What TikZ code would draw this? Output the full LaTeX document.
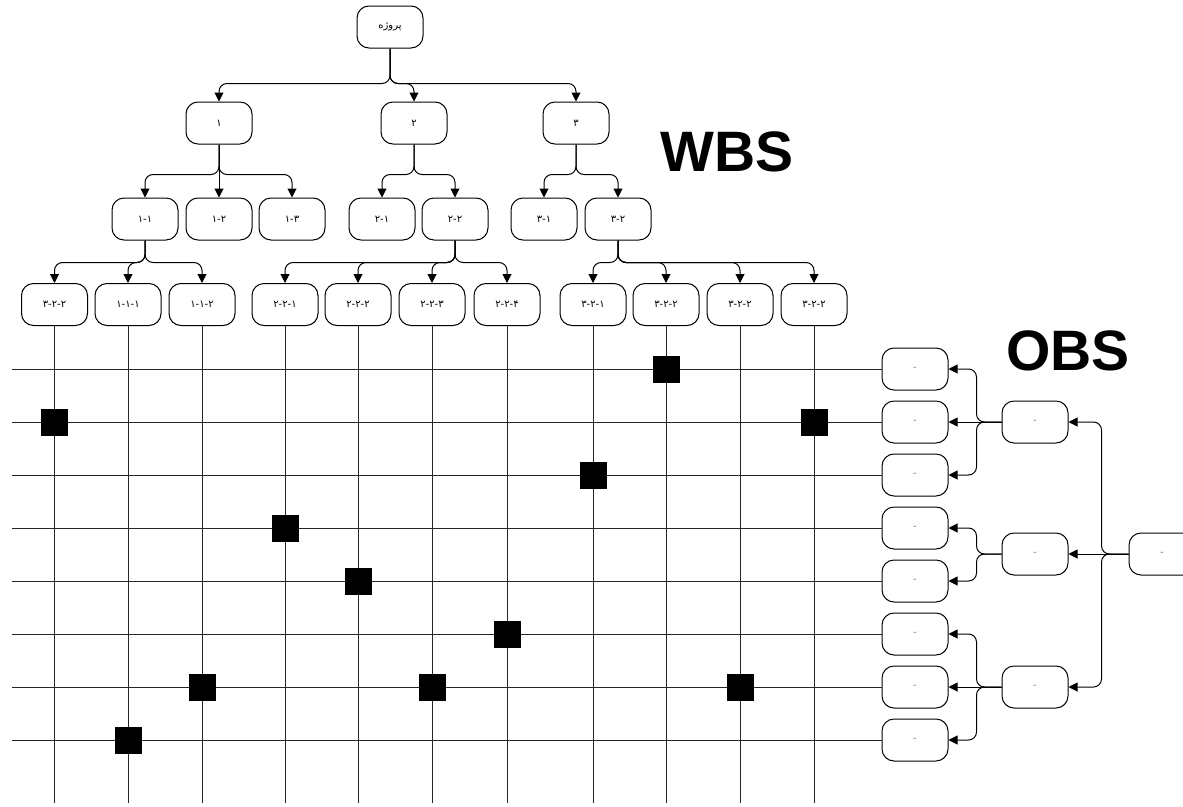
\documentclass[tikz,border=0pt]{standalone}
\usepackage{fontspec}
\usepackage{tikz}
\usetikzlibrary{arrows.meta}
\setmainfont{DejaVu Sans}
\newfontfamily\arabicfont[Script=Arabic]{DejaVu Sans}
\newfontfamily\headfont{Liberation Sans}
\TeXXeTstate=1

\begin{document}
\begin{tikzpicture}[x=1pt, y=-1pt,
  box/.style={draw, line width=1pt, rounded corners=12pt, minimum width=66pt, minimum height=42pt, inner sep=0pt, font=\arabicfont\fontsize{10}{10}\selectfont},
  obsbox/.style={box, text=black!50},
  link/.style={draw, line width=1pt, rounded corners=8pt, -{Triangle[length=9pt,width=9pt]}},
  rule/.style={line width=1pt, black!85},
  hit/.style={fill=black, minimum size=27pt, inner sep=0pt},
  big/.style={font=\headfont\bfseries\fontsize{57}{57}\selectfont}]
\useasboundingbox (0,0) rectangle (1183,806);
\clip (0,0) rectangle (1183,806);

% WBS tree
\node[box] (p) at (390,27) {\beginR پروژه\endR};
\node[box] (a1) at (219,123) {۱};
\node[box] (a2) at (414,123) {۲};
\node[box] (a3) at (576,123) {۳};

\node[box] (b1) at (145,219) {۱-۱};
\node[box] (b2) at (219,219) {۱-۲};
\node[box] (b3) at (292,219) {۱-۳};
\node[box] (b4) at (382,219) {۲-۱};
\node[box] (b5) at (455,219) {۲-۲};
\node[box] (b6) at (544,219) {۳-۱};
\node[box] (b7) at (618,219) {۳-۲};

\node[box] (w1) at (54.5,304.5) {۳-۲-۲};
\node[box] (w2) at (128,304.5) {۱-۱-۱};
\node[box] (w3) at (202,304.5) {۱-۱-۲};
\node[box] (w4) at (285,304.5) {۲-۲-۱};
\node[box] (w5) at (358,304.5) {۲-۲-۲};
\node[box] (w6) at (432,304.5) {۲-۲-۳};
\node[box] (w7) at (507,304.5) {۲-۲-۴};
\node[box] (w8) at (593,304.5) {۳-۲-۱};
\node[box] (w9) at (666,304.5) {۳-۲-۲};
\node[box] (w10) at (740,304.5) {۳-۲-۲};
\node[box] (w11) at (814,304.5) {۳-۲-۲};

\draw[link] (p.south) -- ++(0,35) -| (a1.north);
\draw[link] (p.south) -- ++(0,35) -| (a2.north);
\draw[link] (p.south) -- ++(0,35) -| (a3.north);

\draw[link] (a1.south) -- ++(0,30) -| (b1.north);
\draw[link] (a1.south) -- (b2.north);
\draw[link] (a1.south) -- ++(0,30) -| (b3.north);
\draw[link] (a2.south) -- ++(0,30) -| (b4.north);
\draw[link] (a2.south) -- ++(0,30) -| (b5.north);
\draw[link] (a3.south) -- ++(0,30) -| (b6.north);
\draw[link] (a3.south) -- ++(0,30) -| (b7.north);

\draw[link] (b1.south) -- ++(0,22) -| (w1.north);
\draw[link] (b1.south) -- ++(0,22) -| (w2.north);
\draw[link] (b1.south) -- ++(0,22) -| (w3.north);
\draw[link] (b5.south) -- ++(0,22) -| (w4.north);
\draw[link] (b5.south) -- ++(0,22) -| (w5.north);
\draw[link] (b5.south) -- ++(0,22) -| (w6.north);
\draw[link] (b5.south) -- ++(0,22) -| (w7.north);
\draw[link] (b7.south) -- ++(0,22) -| (w8.north);
\draw[link] (b7.south) -- ++(0,22) -| (w9.north);
\draw[link] (b7.south) -- ++(0,22) -| (w10.north);
\draw[link] (b7.south) -- ++(0,22) -| (w11.north);

% OBS tree
\node[obsbox] (o1) at (915,369) {-};
\node[obsbox] (o2) at (915,422) {-};
\node[obsbox] (o3) at (915,475) {-};
\node[obsbox] (o4) at (915,528) {-};
\node[obsbox] (o5) at (915,581) {-};
\node[obsbox] (o6) at (915,634) {-};
\node[obsbox] (o7) at (915,687) {-};
\node[obsbox] (o8) at (915,740) {-};
\node[obsbox] (m1) at (1035,422) {-};
\node[obsbox] (m2) at (1035,554) {-};
\node[obsbox] (m3) at (1035,687) {-};
\node[obsbox] (r) at (1162,554) {-};

\draw[link] (m1.west) -- ++(-25,0) |- (o1.east);
\draw[link] (m1.west) -- (o2.east);
\draw[link] (m1.west) -- ++(-25,0) |- (o3.east);
\draw[link] (m2.west) -- ++(-25,0) |- (o4.east);
\draw[link] (m2.west) -- ++(-25,0) |- (o5.east);
\draw[link] (m3.west) -- ++(-25,0) |- (o6.east);
\draw[link] (m3.west) -- (o7.east);
\draw[link] (m3.west) -- ++(-25,0) |- (o8.east);
\draw[link] (r.west) -- ++(-27,0) |- (m1.east);
\draw[link] (r.west) -- (m2.east);
\draw[link] (r.west) -- ++(-27,0) |- (m3.east);

% matrix lines
\coordinate (bot) at (0,803);
\coordinate (lft) at (12,0);
\draw[rule] (w1.south) -- (w1.south |- bot);
\draw[rule] (w2.south) -- (w2.south |- bot);
\draw[rule] (w3.south) -- (w3.south |- bot);
\draw[rule] (w4.south) -- (w4.south |- bot);
\draw[rule] (w5.south) -- (w5.south |- bot);
\draw[rule] (w6.south) -- (w6.south |- bot);
\draw[rule] (w7.south) -- (w7.south |- bot);
\draw[rule] (w8.south) -- (w8.south |- bot);
\draw[rule] (w9.south) -- (w9.south |- bot);
\draw[rule] (w10.south) -- (w10.south |- bot);
\draw[rule] (w11.south) -- (w11.south |- bot);
\draw[rule] (o1.west) -- (o1.west -| lft);
\draw[rule] (o2.west) -- (o2.west -| lft);
\draw[rule] (o3.west) -- (o3.west -| lft);
\draw[rule] (o4.west) -- (o4.west -| lft);
\draw[rule] (o5.west) -- (o5.west -| lft);
\draw[rule] (o6.west) -- (o6.west -| lft);
\draw[rule] (o7.west) -- (o7.west -| lft);
\draw[rule] (o8.west) -- (o8.west -| lft);

% assignments
\node[hit] (s1) at (w1 |- o2) {};
\node[hit] (s2) at (w2 |- o8) {};
\node[hit] (s3) at (w3 |- o7) {};
\node[hit] (s4) at (w4 |- o4) {};
\node[hit] (s5) at (w5 |- o5) {};
\node[hit] (s6) at (w6 |- o7) {};
\node[hit] (s7) at (w7 |- o6) {};
\node[hit] (s8) at (w8 |- o3) {};
\node[hit] (s9) at (w9 |- o1) {};
\node[hit] (s10) at (w10 |- o7) {};
\node[hit] (s11) at (w11 |- o2) {};

\node[big] (wbs) at (727,152) {WBS};
\node[big] (obs) at (1068,351) {OBS};
\end{tikzpicture}
\end{document}
